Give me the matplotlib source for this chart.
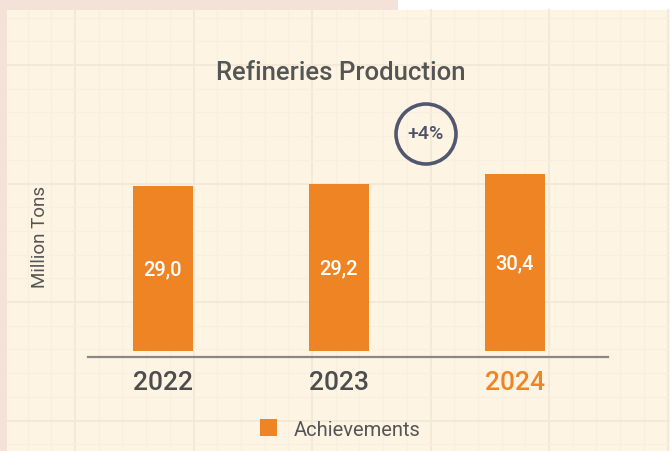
import numpy as np
import matplotlib.pyplot as plt
from matplotlib.patches import Rectangle, Circle

YEARS = ['2022', '2023', '2024']
VALUES = [29.0, 29.2, 30.4]
VALUE_LABELS = ['29,0', '29,2', '30,4']
TICK_COLORS = ['#4d4d4d', '#4d4d4d', '#ee8424']
GROWTH = '+4%'

ORANGE = '#ee8424'
TEXT = '#555555'
W, H = 670, 452

plt.rcParams['font.family'] = ['Roboto', 'DejaVu Sans']

fig = plt.figure(figsize=(W / 100, H / 100), dpi=100)
fig.patch.set_facecolor('#f4e1d8')


def px(x0, y0, x1, y1):
    # pixel box (top-left origin) -> figure fraction rect
    return [x0 / W, 1 - y1 / H, (x1 - x0) / W, (y1 - y0) / H]


# background panel with faint grid
bg = fig.add_axes([0, 0, 1, 1])
bg.set_xlim(0, W)
bg.set_ylim(H, 0)
bg.axis('off')
bg.add_patch(Rectangle((398, 0), W - 398, 11, color='white', lw=0))
bg.add_patch(Rectangle((7, 11), W - 7, H - 11, color='#fdf4e3', lw=0))
step = 118.5 / 5
for i in range(-3, 30):
    x = 75 + i * step
    if 7 < x < W:
        major = i % 5 == 0
        bg.plot([x, x], [11, H], color='#f2e8d8' if major else '#f9efde',
                lw=1.3 if major else 0.8, zorder=1)
for i in range(-3, 20):
    y = 66 + i * step
    if 11 < y < H:
        major = i % 5 == 0
        bg.plot([7, W], [y, y], color='#f2e8d8' if major else '#f9efde',
                lw=1.3 if major else 0.8, zorder=1)

# main chart
ax = fig.add_axes(px(88, 150, 608, 352))
ax.set_facecolor('none')
for s in ['top', 'right', 'left']:
    ax.spines[s].set_visible(False)
ax.spines['bottom'].set_position(('outward', 4.5))
ax.spines['bottom'].set_color('#8a8784')
ax.spines['bottom'].set_linewidth(1.6)

x = np.arange(len(YEARS))
bars = ax.bar(x, VALUES, width=60 / 176, color=ORANGE, label='Achievements', zorder=3)
ymin = 10
ax.set_ylim(ymin, ymin + 202 / 8.68)
ax.set_xlim((88 - 163) / 176, (608 - 163) / 176)

for b, lab in zip(bars, VALUE_LABELS):
    ax.text(b.get_x() + b.get_width() / 2, (ymin + b.get_height()) / 2, lab,
            ha='center', va='center', color='white', fontsize=14.5,
            fontweight='medium', zorder=4)

ax.set_xticks(x)
ax.set_xticklabels(YEARS)
ax.tick_params(axis='x', length=0, pad=9, labelsize=19)
for t, c in zip(ax.get_xticklabels(), TICK_COLORS):
    t.set_color(c)
    t.set_fontweight('medium')
ax.set_yticks([])

fig.text(40 / W, 1 - 237 / H, 'Million Tons', rotation=90, ha='center', va='center',
         fontsize=13.5, color=TEXT)
fig.text(341 / W, 1 - 73 / H, 'Refineries Production', ha='center', va='center',
         fontsize=18.5, fontweight='medium', color=TEXT)

# growth badge
bg.add_patch(Circle((426, 135), 30, fill=False, ec='#525770', lw=2.6, zorder=5))
bg.text(426, 134, GROWTH, ha='center', va='center', fontsize=14,
        fontweight='medium', color='#4e5068', zorder=5)

fig.legend(handles=[bars], labels=['Achievements'], loc='center',
           bbox_to_anchor=(340 / W, 1 - 430 / H), frameon=False, fontsize=14.5,
           handlelength=0.85, handleheight=0.85, handletextpad=0.8, labelcolor=TEXT)

fig.savefig('out.png', dpi=100, facecolor=fig.get_facecolor())
